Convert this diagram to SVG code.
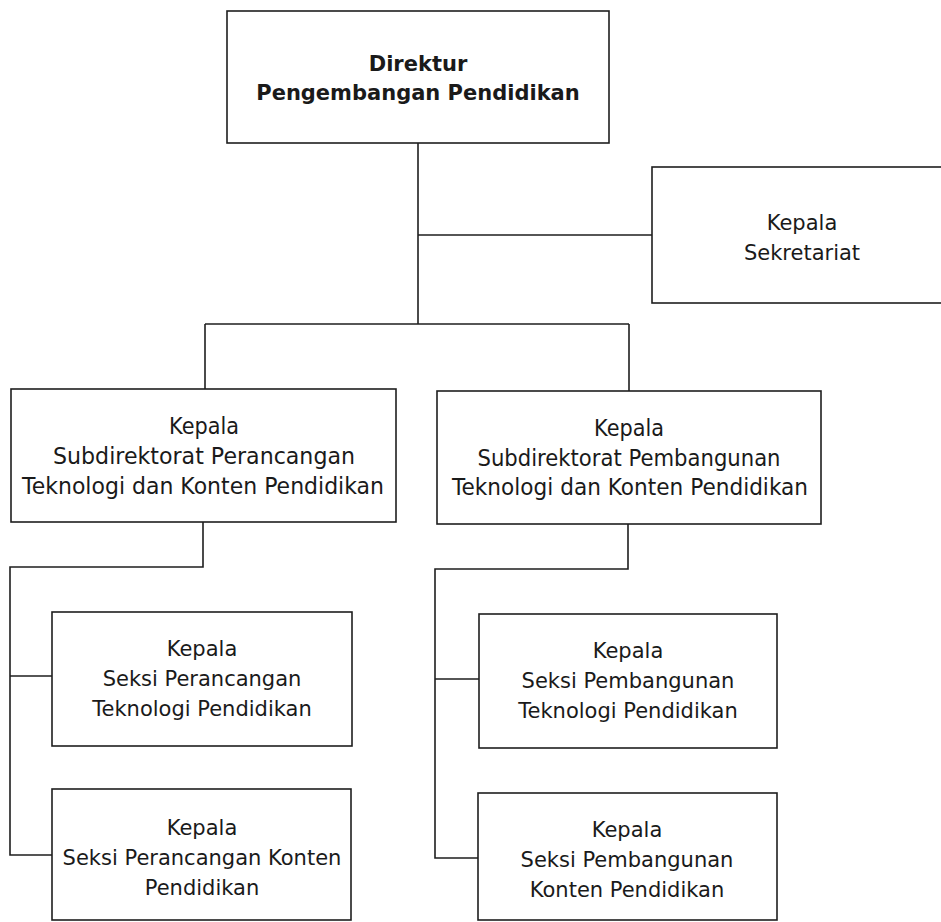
<svg xmlns="http://www.w3.org/2000/svg" width="941" height="922" viewBox="0 0 941 922">
  <style>
    .box { fill: #ffffff; stroke: #1e1e1e; stroke-width: 1.6; }
    .link { fill: none; stroke: #1e1e1e; stroke-width: 1.6; }
    text { font-family: "DejaVu Sans", Verdana, sans-serif; font-size: 21px; fill: #1a1a1a; text-anchor: middle; }
    .bold { font-weight: bold; }
    .tall { font-size: 22.5px; }
  </style>
  <rect width="941" height="922" fill="#ffffff"/>

  <!-- connectors -->
  <g id="connectors">
    <path class="link" d="M418 143 V324"/>
    <path class="link" d="M418 235 H652"/>
    <path class="link" d="M205 324 H629"/>
    <path class="link" d="M205 324 V389"/>
    <path class="link" d="M629 324 V391"/>
    <path class="link" d="M203 522 V567 H10 V855 H52"/>
    <path class="link" d="M10 676 H52"/>
    <path class="link" d="M628 524 V569 H435 V858 H478"/>
    <path class="link" d="M435 679 H479"/>
  </g>

  <g id="direktur">
    <rect class="box" x="227" y="11" width="382" height="132"/>
    <text class="bold" x="418" y="71">Direktur</text>
    <text class="bold" x="418" y="100">Pengembangan Pendidikan</text>
  </g>

  <g id="sekretariat">
    <rect class="box" x="652" y="167" width="300" height="136"/>
    <text x="802" y="230">Kepala</text>
    <text x="802" y="260">Sekretariat</text>
  </g>

  <g id="subdit-perancangan">
    <rect class="box" x="11" y="389" width="385" height="133"/>
    <text class="tall" x="204" y="434" textLength="70" lengthAdjust="spacingAndGlyphs">Kepala</text>
    <text class="tall" x="204" y="464" textLength="302" lengthAdjust="spacingAndGlyphs">Subdirektorat Perancangan</text>
    <text class="tall" x="203" y="494" textLength="362" lengthAdjust="spacingAndGlyphs">Teknologi dan Konten Pendidikan</text>
  </g>

  <g id="subdit-pembangunan">
    <rect class="box" x="437" y="391" width="384" height="133"/>
    <text class="tall" x="629" y="436" textLength="70" lengthAdjust="spacingAndGlyphs">Kepala</text>
    <text class="tall" x="629" y="466" textLength="303" lengthAdjust="spacingAndGlyphs">Subdirektorat Pembangunan</text>
    <text class="tall" x="630" y="495" textLength="356" lengthAdjust="spacingAndGlyphs">Teknologi dan Konten Pendidikan</text>
  </g>

  <g id="seksi-perancangan-teknologi">
    <rect class="box" x="52" y="612" width="300" height="134"/>
    <text x="202" y="656">Kepala</text>
    <text x="202" y="686">Seksi Perancangan</text>
    <text x="202" y="716">Teknologi Pendidikan</text>
  </g>

  <g id="seksi-perancangan-konten">
    <rect class="box" x="52" y="789" width="299" height="131"/>
    <text x="202" y="835">Kepala</text>
    <text x="202" y="865">Seksi Perancangan Konten</text>
    <text x="202" y="895">Pendidikan</text>
  </g>

  <g id="seksi-pembangunan-teknologi">
    <rect class="box" x="479" y="614" width="298" height="134"/>
    <text x="628" y="658">Kepala</text>
    <text x="628" y="688">Seksi Pembangunan</text>
    <text x="628" y="718">Teknologi Pendidikan</text>
  </g>

  <g id="seksi-pembangunan-konten">
    <rect class="box" x="478" y="793" width="299" height="127"/>
    <text x="627" y="837">Kepala</text>
    <text x="627" y="867">Seksi Pembangunan</text>
    <text x="627" y="897">Konten Pendidikan</text>
  </g>
</svg>
